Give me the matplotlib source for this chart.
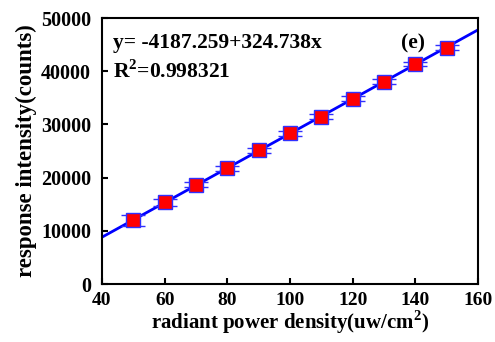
import matplotlib.pyplot as plt
import numpy as np

plt.rcParams['font.family'] = ['Liberation Serif', 'DejaVu Serif']
plt.rcParams['font.weight'] = 'bold'
plt.rcParams['mathtext.fontset'] = 'custom'
plt.rcParams['mathtext.rm'] = 'Liberation Serif:bold'
plt.rcParams['mathtext.bf'] = 'Liberation Serif:bold'

power = [50, 60, 70, 80, 90, 100, 110, 120, 130, 140, 150]
intensity = [11950, 15350, 18650, 21750, 25150, 28300, 31450, 34850, 38050, 41350, 44400]
err = [1000, 600, 500, 500, 500, 450, 450, 450, 450, 450, 450]

intercept = -4187.259
slope = 324.738

fig = plt.figure(figsize=(4.95, 3.42), dpi=100)
ax = fig.add_axes([102 / 495, 58 / 342, 376 / 495, 266 / 342])

xs = np.array([40, 160])
ax.plot(xs, intercept + slope * xs, color='#0000ff', lw=2, zorder=2)
ax.errorbar(power, intensity, yerr=err, fmt='s', ms=9.5, mfc='#ff0000',
            mec='#3030ff', mew=1, ecolor='#3030ff', elinewidth=1,
            capsize=8.5, capthick=1, zorder=3)

ax.set_xlim(40, 160)
ax.set_ylim(0, 50000)
ax.set_xticks([40, 60, 80, 100, 120, 140, 160])
ax.set_yticks([0, 10000, 20000, 30000, 40000, 50000])
ax.tick_params(direction='in', labelsize=14.5, width=1.5, length=4)
ax.tick_params(axis='x', labelsize=14, pad=6)
ax.tick_params(axis='y', pad=8)
for s in ax.spines.values():
    s.set_linewidth(1.5)

ax.set_xlabel('radiant power density(uw/cm$^2$)', fontsize=15, fontweight='bold', labelpad=-1)
ax.set_ylabel('response intensity(counts)', fontsize=16.5, fontweight='bold', labelpad=3)

ax.text(0.03, 0.905, 'y= -4187.259+324.738x', transform=ax.transAxes,
        fontsize=15.5, fontweight='bold', va='center')
ax.text(0.03, 0.80, 'R$^2$=0.998321', transform=ax.transAxes,
        fontsize=15.5, fontweight='bold', va='center')
ax.text(0.795, 0.905, '(e)', transform=ax.transAxes,
        fontsize=15.5, fontweight='bold', va='center')

fig.savefig('out.png', dpi=100)
